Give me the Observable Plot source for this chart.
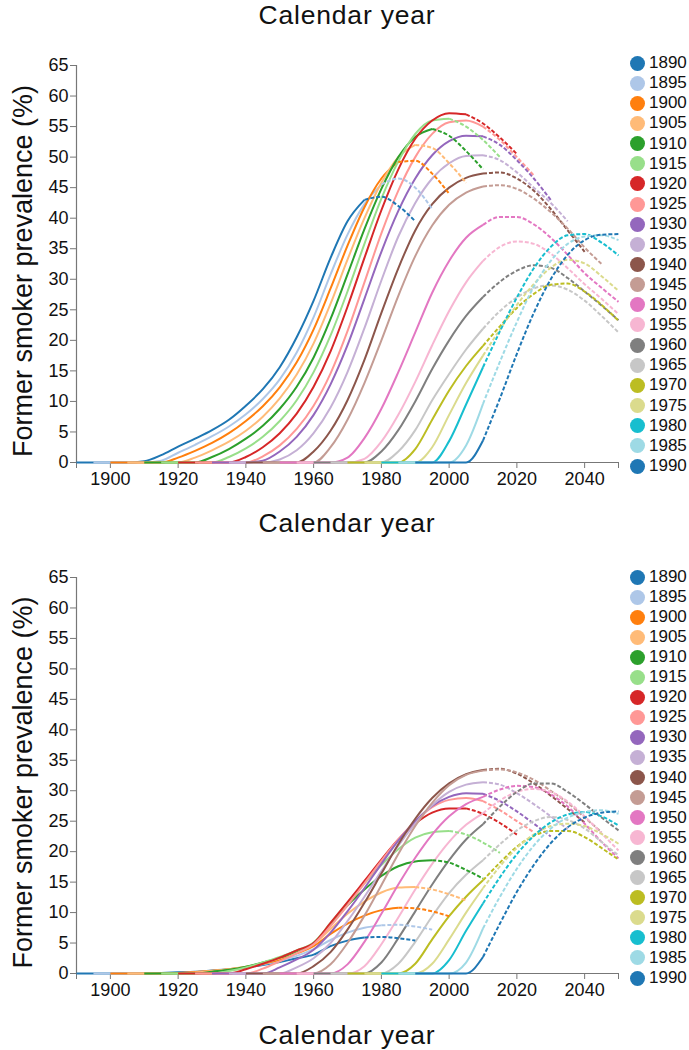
<!DOCTYPE html>
<html>
<head>
<meta charset="utf-8">
<script src="https://cdn.jsdelivr.net/npm/d3@7"></script>
<script src="https://cdn.jsdelivr.net/npm/@observablehq/plot@0.6"></script>
<style>
  html, body { margin: 0; padding: 0; background: #fff; }
  body { font-family: "Liberation Sans", Arial, sans-serif; color: #111; }
  #root { position: relative; width: 689px; height: 1050px; overflow: hidden; }
  .title { position: absolute; left: 0; width: 694px; text-align: center; font-size: 26.5px; line-height: 30px; letter-spacing: 0.8px; white-space: nowrap; }
  .panel { position: absolute; left: 0; }
  .lg { position: absolute; left: 630px; height: 20px; display: flex; align-items: center; font-size: 17px; }
  .lg span.c { width: 15px; height: 15px; border-radius: 50%; display: inline-block; margin-right: 4px; }
</style>
</head>
<body>
<div id="root"></div>
<script>
// ---------- data ----------
const cohorts = [1890,1895,1900,1905,1910,1915,1920,1925,1930,1935,1940,1945,1950,1955,1960,1965,1970,1975,1980,1985,1990];
const cohortColors = ["#1f77b4","#aec7e8","#ff7f0e","#ffbb78","#2ca02c","#98df8a","#d62728","#ff9896","#9467bd","#c5b0d5","#8c564b","#c49c94","#e377c2","#f7b6d2","#7f7f7f","#c7c7c7","#bcbd22","#dbdb8d","#17becf","#9edae5","#1f77b4"];
const yearStep = 5;              // each row: values from the cohort's birth year, every 5 calendar years
const xTicks = [1890,1900,1920,1940,1960,1980,2000,2020,2040,2050];
const yTicks = [0,5,10,15,20,25,30,35,40,45,50,55,60,65];

// Upper panel: former smoker prevalence (%) by birth cohort
const topPanel = [
  [0,0,0,0,0.2,1.2,2.6,3.9,5.3,7.0,9.3,12.0,15.6,20.5,26.5,33.5,39.5,43.0,43.5,42.0,39.5],        // 1890
  [0,0,0,0,0.3,1.6,2.9,4.3,5.9,7.9,10.4,13.6,18.0,23.8,30.8,37.3,42.3,45.5,46.5,45.0,41.5],       // 1895
  [0,0,0,0,0.8,1.9,3.2,4.8,6.8,9.2,12.3,16.4,21.8,28.5,35.5,41.8,46.5,49.2,49.4,47.3,44.0],       // 1900
  [0,0,0,0,0.8,2.0,3.4,5.2,7.5,10.5,14.4,19.5,26.0,33.2,40.0,45.8,50.0,52.0,51.5,49.0,45.8],      // 1905
  [0,0,0,0,0.9,2.2,3.9,6.0,8.8,12.4,17.2,23.5,30.8,38.2,44.8,50.0,53.3,54.6,53.5,51.0,48.0],      // 1910
  [0,0,0,0,0.9,2.3,4.2,6.8,10.2,14.8,20.8,28.0,35.8,43.2,49.3,53.8,56.0,56.3,55.0,52.8,50.0],     // 1915
  [0,0,0,0,0.9,2.5,4.8,8.0,12.4,18.2,25.5,33.5,41.3,48.0,53.0,56.0,57.2,57.0,55.5,53.2,50.5],     // 1920
  [0,0,0,0,1.0,2.8,5.5,9.3,14.6,21.5,29.5,37.5,44.5,50.0,53.8,55.7,56.0,55.0,52.8,50.0,47.0],     // 1925
  [0,0,0,0.3,1.8,4.2,7.8,12.8,19.2,26.8,34.5,41.2,46.5,50.3,52.6,53.5,53.4,52.0,49.5,46.5,43.0],  // 1930
  [0,0,0,0.5,2.0,4.8,9.0,14.8,22.0,29.8,37.0,42.5,46.5,49.0,50.2,50.3,49.5,47.5,45.0,42.5,39.5],  // 1935
  [0,0,0,0,1.8,5.2,10.2,16.8,24.5,31.8,38.0,42.3,45.0,46.6,47.3,47.5,46.5,44.5,41.5,38.0,34.5],   // 1940
  [0,0,0,0,2.5,7.0,13.0,20.0,27.3,33.8,38.8,42.2,44.2,45.2,45.4,44.8,43.2,41.0,38.3,35.2,32.5],   // 1945
  [0,0,0,0,0.8,4.0,8.8,14.8,21.3,27.8,33.0,36.8,38.9,40.2,40.2,39.0,36.8,34.0,31.0,28.6,26.3],    // 1950
  [0,0,0,0,0.6,3.4,7.8,13.2,19.2,24.8,29.5,33.0,35.3,36.2,35.8,34.2,31.8,29.2,26.8,24.3],         // 1955
  [0,0,0,0,1.8,5.3,10.0,15.3,20.0,24.0,27.1,29.6,31.4,32.3,31.9,30.2,28.0,25.7,23.3],             // 1960
  [0,0,0,0,1.8,5.3,10.2,14.5,18.5,21.9,24.8,27.0,28.5,29.0,28.3,26.5,24.0,21.3],                  // 1965
  [0,0,0,0,2.2,7.0,11.8,15.8,19.1,22.3,25.3,27.6,29.1,29.3,28.0,25.8,23.2],                       // 1970
  [0,0,0,0,2.5,7.8,13.0,17.5,21.8,25.8,29.2,31.9,33.2,32.6,30.5,28.1],                            // 1975
  [0,0,0,0,3.5,9.5,15.6,21.5,27.0,31.8,35.3,37.2,37.4,36.0,33.9],                                 // 1980
  [0,0,0,0,2.8,9.6,16.5,23.0,28.8,33.0,35.8,37.0,37.2,36.4],                                      // 1985
  [0,0,0,0,3.6,10.5,17.8,24.5,30.0,34.0,36.4,37.3,37.4]                                           // 1990
];

// Lower panel
const bottomPanel = [
  [0,0,0,0,0,0.1,0.2,0.3,0.5,0.7,1.0,1.4,1.9,2.5,3.1,4.5,5.4,5.9,6.0,5.8,5.4],                    // 1890
  [0,0,0,0,0,0.1,0.25,0.45,0.7,1.0,1.5,2.1,2.9,4.0,5.5,6.7,7.5,7.9,8.0,7.7,7.2],                  // 1895
  [0,0,0,0,0.1,0.25,0.45,0.7,1.05,1.6,2.3,3.3,4.5,6.5,8.2,9.5,10.4,10.8,10.7,10.2,9.4],           // 1900
  [0,0,0,0,0.15,0.4,0.7,1.1,1.7,2.5,3.5,4.8,7.3,9.8,11.8,13.3,14.1,14.2,13.8,13.0,12.0],          // 1905
  [0,0,0,0,0.3,0.6,1.1,1.8,2.6,3.7,5.0,8.0,11.2,13.8,16.0,17.6,18.4,18.6,18.2,17.0,15.6],         // 1910
  [0,0,0,0,0.4,1.0,1.8,2.7,3.8,5.1,8.3,11.6,14.8,17.8,20.4,22.3,23.2,23.4,22.8,21.5,19.8],        // 1915
  [0,0,0,0,0.7,1.6,2.6,3.8,5.0,8.3,11.7,15.2,18.7,22.0,24.6,26.4,27.1,27.1,26.2,24.7,22.8],       // 1920
  [0,0,0,0,0.8,2.0,3.3,4.8,7.8,11.2,14.8,18.5,22.0,25.0,27.3,28.5,28.8,28.3,26.8,25.0,23.2],      // 1925
  [0,0,0,0,1.0,2.3,3.9,6.7,10.2,14.0,18.0,21.8,25.0,27.5,29.0,29.6,29.5,28.3,26.6,24.6,22.5],     // 1930
  [0,0,0,0,1.0,2.5,5.0,8.6,12.6,16.8,21.0,24.6,27.6,29.8,31.0,31.4,31.0,29.6,27.8,25.8,23.7],     // 1935
  [0,0,0,0,1.2,3.5,7.2,11.6,16.4,21.2,25.4,28.8,31.2,32.7,33.4,33.6,32.8,31.2,29.2,27.0,24.8],    // 1940
  [0,0,0,0,1.5,5.0,9.5,14.5,19.6,24.2,28.0,30.9,32.6,33.3,33.5,33.0,31.8,30.0,28.0,25.6,23.2],    // 1945
  [0,0,0,0,1.5,5.2,9.8,14.6,19.0,22.8,25.8,27.8,29.0,30.2,30.8,30.6,29.4,27.4,24.6,21.6,18.9],    // 1950
  [0,0,0,0,1.2,4.8,9.2,13.8,18.0,21.6,24.4,26.3,28.4,29.8,30.3,29.8,28.2,25.8,23.0,20.2],         // 1955
  [0,0,0,0,1.8,5.8,10.2,14.6,18.6,22.0,24.5,27.4,29.8,31.2,31.2,29.8,27.8,25.6,23.5],             // 1960
  [0,0,0,0,1.6,5.2,9.4,13.2,16.2,18.6,21.2,23.5,25.0,25.7,25.2,23.8,21.6,19.4],                   // 1965
  [0,0,0,0,1.6,5.6,9.4,12.6,15.3,18.2,20.8,22.6,23.4,23.4,22.4,20.6,18.7],                        // 1970
  [0,0,0,0,1.6,5.6,10.0,14.0,17.6,20.6,22.8,24.2,24.6,24.2,22.9,21.3],                            // 1975
  [0,0,0,0,2.2,7.0,11.5,15.8,19.6,22.6,24.8,26.1,26.5,25.8,24.3],                                 // 1980
  [0,0,0,0,1.8,7.4,12.6,17.2,21.0,23.8,25.6,26.5,26.8,26.2],                                      // 1985
  [0,0,0,0,2.7,8.2,13.4,17.8,21.4,24.0,25.6,26.4,26.6]                                            // 1990
];

// observed (solid) up to age 85 or calendar 2010, projected (dashed) after
const observedAgeLimit = 85;
const observedYearLimit = 2010;

// ---------- build ----------
const FONT = "'Liberation Sans', Arial, sans-serif";
const root = document.getElementById("root");

function addTitle(top) {
  const d = document.createElement("div");
  d.className = "title";
  d.style.top = top + "px";
  d.textContent = "Calendar year";
  root.appendChild(d);
}

function addLegend(y0, step) {
  cohorts.forEach((c, i) => {
    const d = document.createElement("div");
    d.className = "lg";
    d.style.top = (y0 - 10 + i * step) + "px";
    const s = document.createElement("span");
    s.className = "c";
    s.style.background = cohortColors[i];
    d.appendChild(s);
    d.appendChild(document.createTextNode(String(c)));
    root.appendChild(d);
  });
}

function panel(values, top, height, marginTop, marginBottom) {
  const rows = cohorts.flatMap((c, i) => values[i].map((v, j) => ({cohort: c, year: c + yearStep * j, value: v})));
  const cut = c => Math.min(c + observedAgeLimit, observedYearLimit);
  const solid = rows.filter(r => r.year <= cut(r.cohort));
  const dashed = rows.filter(r => r.year >= cut(r.cohort));
  const chart = Plot.plot({
    width: 689, height, marginLeft: 76, marginRight: 71, marginTop, marginBottom,
    style: {fontFamily: FONT, fontSize: "18px", color: "#111", background: "transparent"},
    x: {domain: [1890, 2050]},
    y: {domain: [0, 65]},
    color: {domain: cohorts, range: cohortColors},
    marks: [
      Plot.ruleX([1890], {stroke: "#777", strokeWidth: 1.2}),
      Plot.ruleY([0], {stroke: "#777", strokeWidth: 1.2}),
      Plot.axisX({ticks: xTicks, tickFormat: d => (d === 1890 || d === 2050) ? "" : String(d), tickSize: 6, tickPadding: 4, stroke: "#777", fill: "#111", label: null}),
      Plot.axisY({ticks: yTicks, tickFormat: d => String(d), tickSize: 6, tickPadding: 2, stroke: "#777", fill: "#111", label: null}),
      Plot.line(solid, {x: "year", y: "value", z: "cohort", stroke: "cohort", strokeWidth: 2, curve: "monotone-x", strokeLinecap: "butt"}),
      Plot.line(dashed, {x: "year", y: "value", z: "cohort", stroke: "cohort", strokeWidth: 2, curve: "monotone-x", strokeLinecap: "butt", strokeDasharray: "4,2"}),
      Plot.text(["Former smoker prevalence (%)"], {text: d => d, frameAnchor: "left", textAnchor: "middle", rotate: -90, dx: -53, dy: 7, fontSize: 27, fill: "#111"})
    ]
  });
  const wrap = document.createElement("div");
  wrap.className = "panel";
  wrap.style.top = top + "px";
  wrap.appendChild(chart);
  root.appendChild(wrap);
}

addTitle(0);
panel(topPanel, 0, 500, 65, 38);
addTitle(507.5);
panel(bottomPanel, 510, 490, 67, 27);
addTitle(1019.5);
addLegend(63, 20.15);
addLegend(577, 20.05);
</script>
</body>
</html>
